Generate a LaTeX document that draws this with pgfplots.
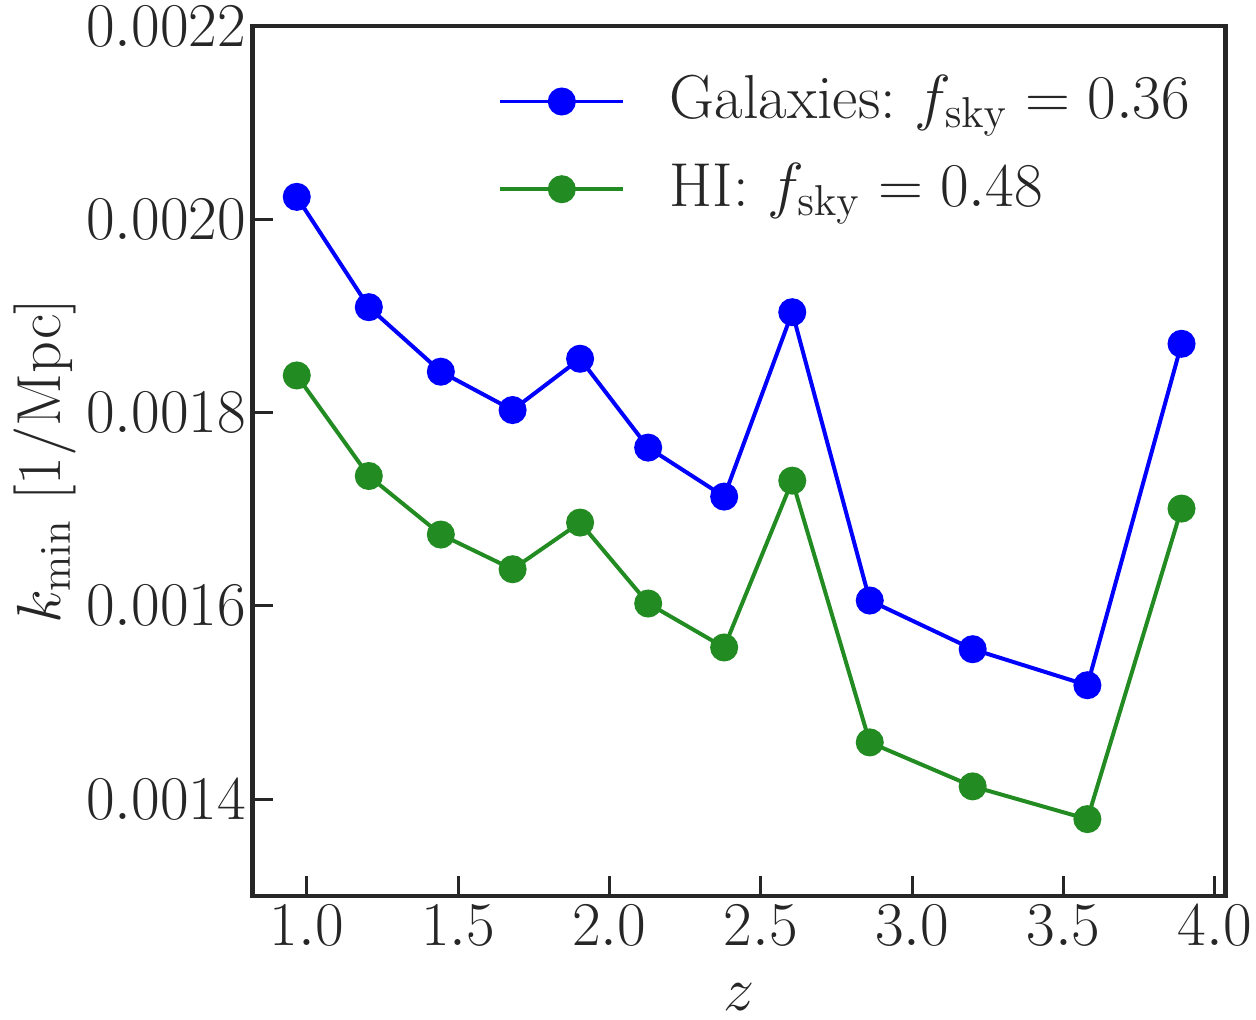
\documentclass[border=0pt]{standalone}
\usepackage{pgfplots}
\pgfplotsset{compat=1.18}
\definecolor{axisgray}{HTML}{262626}
\definecolor{forestgreen}{RGB}{34,139,34}

\pgfplotstableread{
z kmin
0.967 0.0020235
1.205 0.0019093
1.443 0.0018425
1.680 0.0018028
1.903 0.0018559
2.128 0.0017639
2.379 0.0017132
2.604 0.0019041
2.860 0.0016056
3.200 0.0015552
3.579 0.0015179
3.890 0.0018714
}\galaxies

\pgfplotstableread{
z kmin
0.967 0.0018386
1.205 0.0017345
1.443 0.0016739
1.680 0.0016380
1.903 0.0016863
2.128 0.0016025
2.379 0.0015570
2.604 0.0017297
2.860 0.0014587
3.200 0.0014132
3.579 0.0013793
3.890 0.0017008
}\hidata

\newcommand{\figfont}{\fontsize{20.7}{25}\selectfont}

\begin{document}
\figfont
\begin{tikzpicture}
\begin{axis}[
  scale only axis,
  width=324.3pt, height=289.8pt,
  xmin=0.821, xmax=4.035,
  ymin=0.0013, ymax=0.0022,
  xtick={1.0,1.5,...,4.0},
  ytick={0.0014,0.0016,0.0018,0.0020,0.0022},
  scaled y ticks=false,
  scaled x ticks=false,
  xticklabel style={yshift=4pt, /pgf/number format/.cd, fixed, fixed zerofill, precision=1},
  yticklabel style={xshift=4.8pt, /pgf/number format/.cd, fixed, fixed zerofill, precision=4},
  tick align=inside,
  xtick pos=bottom, ytick pos=left,
  major tick length=6.7pt,
  tick style={line width=1pt, color=axisgray},
  axis line style={line width=1.4pt, color=axisgray},
  every tick label/.append style={font=\figfont, text=axisgray},
  xlabel={$z$},
  ylabel={$k_{\rm min}\ [1/{\rm Mpc}]$},
  label style={font=\figfont, text=axisgray},
  xlabel style={at={(axis description cs:0.5,-0.117)}, anchor=center, inner sep=0pt},
  ylabel style={at={(axis description cs:-0.2133,0.5)}, anchor=center, inner sep=0pt},
  legend style={draw=none, fill=none, at={(0.252,0.9515)}, anchor=north west,
    font=\figfont, text=axisgray,
    row sep=7.7pt, inner sep=0pt},
  legend cell align=left,
  legend image code/.code={
    \draw[mark repeat=2, mark phase=2]
      plot coordinates {(0pt,0pt) (20.5pt,0pt) (41pt,0pt)};
    \path (53.8pt,0pt);},
]
\addplot[color=blue, line width=1.33pt, mark=*, mark size=4pt,
  mark options={solid}] table[x=z, y=kmin] {\galaxies};
\addlegendentry{Galaxies:\ $f_{\rm sky}=0.36$}
\addplot[color=forestgreen, line width=1.33pt, mark=*, mark size=4pt,
  mark options={solid}] table[x=z, y=kmin] {\hidata};
\addlegendentry{HI: $f_{\rm sky}=0.48$}
\end{axis}
\pgfresetboundingbox
\path[use as bounding box]
  ([shift={(-84.2pt,-41.3pt)}]current axis.south west) rectangle
  ([shift={(10.2pt,8.8pt)}]current axis.north east);
\end{tikzpicture}
\end{document}
